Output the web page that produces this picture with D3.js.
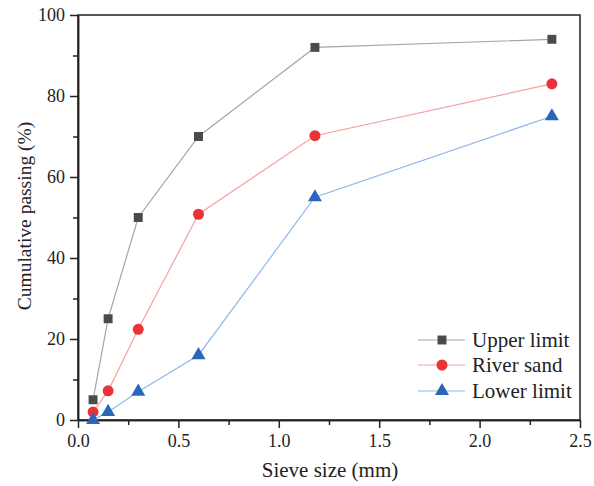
<!DOCTYPE html>
<html><head><meta charset="utf-8">
<script src="https://cdn.jsdelivr.net/npm/d3@7"></script>
<style>body{margin:0;background:#fff}svg{display:block}</style>
</head><body>
<svg id="c" width="594" height="486"></svg>
<script>
const sieveSizes = [0.075, 0.15, 0.3, 0.6, 1.18, 2.36];
const upperLimit = [5, 25, 50, 70, 92, 94];
const riverSand = [2, 7.2, 22.4, 50.8, 70.2, 83];
const lowerLimit = [0, 2, 7, 16, 55, 75];
const seriesNames = ["Upper limit", "River sand", "Lower limit"];
const xTicks = [0, 0.5, 1.0, 1.5, 2.0, 2.5];
const yTicks = [0, 20, 40, 60, 80, 100];

const svg = d3.select("#c");
const L = 78, R = 580, T = 15, B = 420;
const x = d3.scaleLinear().domain([0, 2.5]).range([L, R]);
const y = d3.scaleLinear().domain([0, 100]).range([B, T]);
const font = "'Liberation Serif','Times New Roman',serif";

const series = [
  {name: seriesNames[0], vals: upperLimit, line: "#a6a6a6", fill: "#4a4a4a", shape: d3.symbolSquare, size: 80},
  {name: seriesNames[1], vals: riverSand, line: "#f7a0a0", fill: "#ec3238", shape: d3.symbolCircle, size: 95},
  {name: seriesNames[2], vals: lowerLimit, line: "#8db8ea", fill: "#2a67ba", shape: d3.symbolTriangle, size: 85}
];

// box
svg.append("rect").attr("x", L).attr("y", T).attr("width", R - L).attr("height", B - T)
  .attr("fill", "none").attr("stroke", "#222").attr("stroke-width", 1.5);

// axes
const xAxis = d3.axisBottom(x).tickValues(xTicks).tickFormat(d3.format(".1f")).tickSizeInner(8).tickSizeOuter(0).tickPadding(6);
const gx = svg.append("g").attr("transform", `translate(0,${B})`).call(xAxis);
const xMinor = d3.axisBottom(x).tickValues([0.25, 0.75, 1.25, 1.75, 2.25]).tickFormat("").tickSizeInner(5).tickSizeOuter(0);
const gxm = svg.append("g").attr("transform", `translate(0,${B})`).call(xMinor);
const yAxis = d3.axisLeft(y).tickValues(yTicks).tickSizeInner(8).tickSizeOuter(0).tickPadding(5);
const gy = svg.append("g").attr("transform", `translate(${L},0)`).call(yAxis);
const yMinor = d3.axisLeft(y).tickValues([10, 30, 50, 70, 90]).tickFormat("").tickSizeInner(5).tickSizeOuter(0);
const gym = svg.append("g").attr("transform", `translate(${L},0)`).call(yMinor);
[gx, gxm, gy, gym].forEach(g => {
  g.select(".domain").attr("stroke", "#222").attr("stroke-width", 1.5);
  g.selectAll(".tick line").attr("stroke", "#222").attr("stroke-width", 1.5);
  g.selectAll("text").attr("font-family", font).attr("font-size", 18).attr("fill", "#222");
});

// lines + markers
series.forEach(s => {
  const pts = sieveSizes.map((v, i) => [v, s.vals[i]]);
  svg.append("path").datum(pts)
    .attr("d", d3.line().x(d => x(d[0])).y(d => y(d[1])))
    .attr("fill", "none").attr("stroke", s.line).attr("stroke-width", 1.2);
  svg.selectAll(null).data(pts).enter().append("path")
    .attr("transform", d => `translate(${x(d[0])},${y(d[1])})`)
    .attr("d", d3.symbol().type(s.shape).size(s.size))
    .attr("fill", s.fill);
});

// legend
const legY = [340, 365, 391];
series.forEach((s, i) => {
  const g = svg.append("g").attr("transform", `translate(0,${legY[i]})`);
  g.append("line").attr("x1", 418).attr("x2", 465).attr("y1", 0).attr("y2", 0)
    .attr("stroke", s.line).attr("stroke-width", 1.2);
  g.append("path").attr("transform", "translate(442,0)")
    .attr("d", d3.symbol().type(s.shape).size(s.size)).attr("fill", s.fill);
  g.append("text").attr("x", 472).attr("y", 0).attr("dy", "0.35em")
    .attr("font-family", font).attr("font-size", 21).attr("fill", "#222").text(s.name);
});

// axis titles
svg.append("text").attr("x", 330).attr("y", 477).attr("text-anchor", "middle")
  .attr("font-family", font).attr("font-size", 21).attr("fill", "#222").text("Sieve size (mm)");
svg.append("text").attr("transform", `translate(31,216) rotate(-90)`).attr("text-anchor", "middle")
  .attr("font-family", font).attr("font-size", 19.5).attr("fill", "#222").text("Cumulative passing (%)");
</script>
</body></html>
